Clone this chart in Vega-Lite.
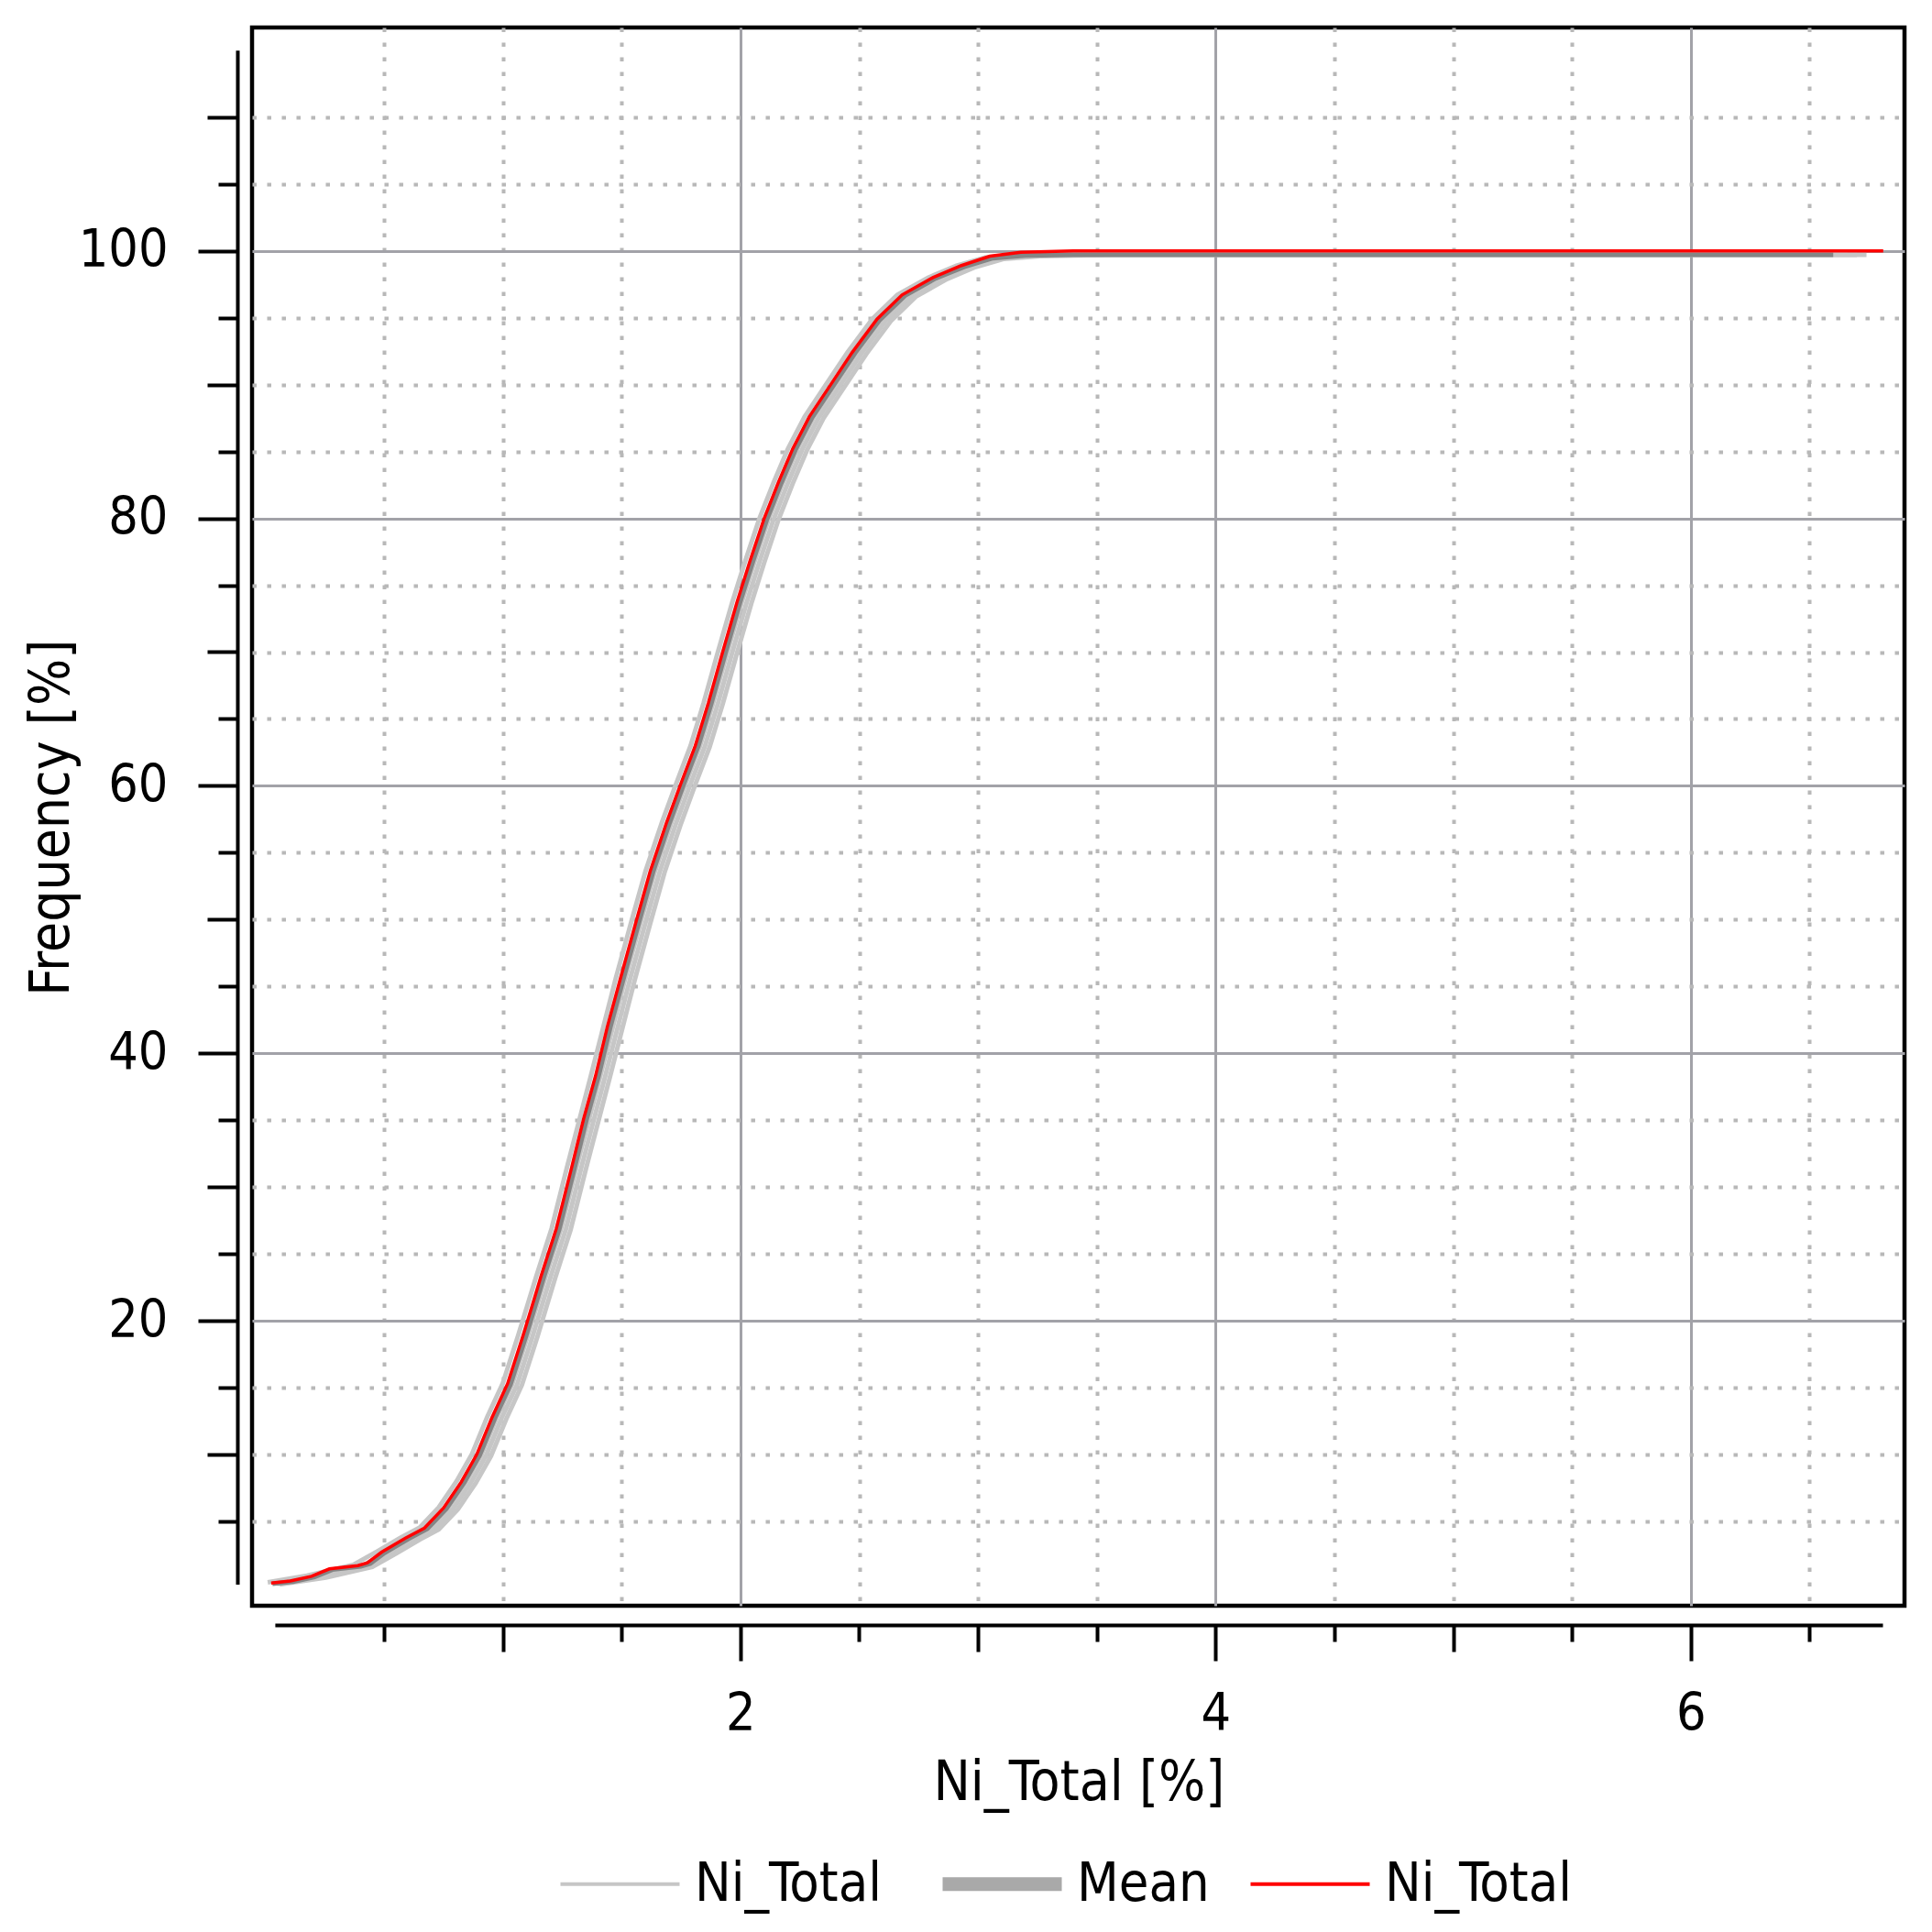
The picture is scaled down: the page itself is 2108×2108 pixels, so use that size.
{
  "$schema": "https://vega.github.io/schema/vega-lite/v6.json",
  "width": 1803,
  "height": 1722,
  "autosize": {"type": "none"},
  "padding": {"left": 275, "top": 30, "right": 30, "bottom": 356},
  "background": "white",
  "config": {
    "font": "DejaVu Sans Condensed",
    "view": {"stroke": "black", "strokeWidth": 4.5},
    "axis": {
      "labelFont": "DejaVu Sans Condensed",
      "titleFont": "DejaVu Sans Condensed",
      "labelColor": "black",
      "titleColor": "black",
      "titleFontWeight": "normal",
      "domainColor": "black",
      "domainWidth": 4,
      "tickColor": "black",
      "tickWidth": 4
    },
    "legend": {"labelFont": "DejaVu Sans Condensed", "labelColor": "black"}
  },
  "datasets": {
    "obs": [
      {"x": 0.025, "y": 0.4}, {"x": 0.105, "y": 0.55}, {"x": 0.195, "y": 0.9}, {"x": 0.27, "y": 1.45},
      {"x": 0.39, "y": 1.7}, {"x": 0.43, "y": 1.9}, {"x": 0.49, "y": 2.7}, {"x": 0.59, "y": 3.75},
      {"x": 0.67, "y": 4.5}, {"x": 0.75, "y": 6.0}, {"x": 0.825, "y": 7.95}, {"x": 0.89, "y": 10.0},
      {"x": 0.955, "y": 12.8}, {"x": 1.02, "y": 15.3}, {"x": 1.085, "y": 18.9}, {"x": 1.135, "y": 21.8},
      {"x": 1.16, "y": 23.3}, {"x": 1.225, "y": 26.9}, {"x": 1.29, "y": 31.5}, {"x": 1.34, "y": 35.1},
      {"x": 1.39, "y": 38.3}, {"x": 1.44, "y": 42.0}, {"x": 1.495, "y": 45.6}, {"x": 1.56, "y": 49.8},
      {"x": 1.62, "y": 53.6}, {"x": 1.69, "y": 57.3}, {"x": 1.75, "y": 60.2}, {"x": 1.81, "y": 63.0},
      {"x": 1.865, "y": 66.2}, {"x": 1.925, "y": 70.0}, {"x": 1.985, "y": 73.7}, {"x": 2.04, "y": 76.8},
      {"x": 2.1, "y": 80.0}, {"x": 2.16, "y": 82.7}, {"x": 2.22, "y": 85.2}, {"x": 2.29, "y": 87.6},
      {"x": 2.38, "y": 90.0}, {"x": 2.47, "y": 92.4}, {"x": 2.575, "y": 94.9}, {"x": 2.68, "y": 96.7},
      {"x": 2.81, "y": 98.0}, {"x": 2.93, "y": 98.9}, {"x": 3.05, "y": 99.6}, {"x": 3.18, "y": 99.9},
      {"x": 3.4, "y": 100}, {"x": 4.0, "y": 100}, {"x": 5.0, "y": 100}, {"x": 6.0, "y": 100}, {"x": 6.81, "y": 100}
    ],
    "mean": [
      {"x": 0.03, "y": 0.35}, {"x": 0.117, "y": 0.5}, {"x": 0.207, "y": 0.85}, {"x": 0.282, "y": 1.4},
      {"x": 0.402, "y": 1.65}, {"x": 0.442, "y": 1.85}, {"x": 0.502, "y": 2.65}, {"x": 0.602, "y": 3.7},
      {"x": 0.682, "y": 4.45}, {"x": 0.762, "y": 5.95}, {"x": 0.837, "y": 7.9}, {"x": 0.902, "y": 9.95},
      {"x": 0.967, "y": 12.75}, {"x": 1.032, "y": 15.25}, {"x": 1.097, "y": 18.85}, {"x": 1.147, "y": 21.75},
      {"x": 1.172, "y": 23.25}, {"x": 1.237, "y": 26.85}, {"x": 1.302, "y": 31.45}, {"x": 1.352, "y": 35.05},
      {"x": 1.402, "y": 38.25}, {"x": 1.452, "y": 41.95}, {"x": 1.507, "y": 45.55}, {"x": 1.572, "y": 49.75},
      {"x": 1.632, "y": 53.55}, {"x": 1.702, "y": 57.25}, {"x": 1.762, "y": 60.15}, {"x": 1.822, "y": 62.95},
      {"x": 1.877, "y": 66.15}, {"x": 1.937, "y": 69.95}, {"x": 1.997, "y": 73.65}, {"x": 2.052, "y": 76.75},
      {"x": 2.112, "y": 79.95}, {"x": 2.172, "y": 82.65}, {"x": 2.232, "y": 85.15}, {"x": 2.302, "y": 87.55},
      {"x": 2.392, "y": 89.95}, {"x": 2.482, "y": 92.35}, {"x": 2.587, "y": 94.85}, {"x": 2.692, "y": 96.65},
      {"x": 2.822, "y": 97.95}, {"x": 2.942, "y": 98.8}, {"x": 3.062, "y": 99.45}, {"x": 3.2, "y": 99.65},
      {"x": 3.4, "y": 99.7}, {"x": 4.0, "y": 99.7}, {"x": 5.0, "y": 99.7}, {"x": 6.0, "y": 99.7}, {"x": 6.6, "y": 99.7}
    ],
    "sims": [
      {"s": "a", "x": 0.01, "y": 0.45}, {"s": "a", "x": 0.175, "y": 0.95}, {"s": "a", "x": 0.37, "y": 1.75}, {"s": "a", "x": 0.47, "y": 2.75},
      {"s": "a", "x": 0.57, "y": 3.8}, {"s": "a", "x": 0.65, "y": 4.55}, {"s": "a", "x": 0.73, "y": 6.05}, {"s": "a", "x": 0.805, "y": 8.0},
      {"s": "a", "x": 0.87, "y": 10.05}, {"s": "a", "x": 0.935, "y": 12.85}, {"s": "a", "x": 1.0, "y": 15.35}, {"s": "a", "x": 1.065, "y": 18.95},
      {"s": "a", "x": 1.14, "y": 23.3}, {"s": "a", "x": 1.205, "y": 26.9}, {"s": "a", "x": 1.27, "y": 31.5}, {"s": "a", "x": 1.37, "y": 38.3},
      {"s": "a", "x": 1.475, "y": 45.6}, {"s": "a", "x": 1.54, "y": 49.8}, {"s": "a", "x": 1.6, "y": 53.6}, {"s": "a", "x": 1.67, "y": 57.3},
      {"s": "a", "x": 1.73, "y": 60.2}, {"s": "a", "x": 1.79, "y": 63.0}, {"s": "a", "x": 1.845, "y": 66.2}, {"s": "a", "x": 1.905, "y": 70.0},
      {"s": "a", "x": 1.965, "y": 73.7}, {"s": "a", "x": 2.02, "y": 76.8}, {"s": "a", "x": 2.08, "y": 80.0}, {"s": "a", "x": 2.14, "y": 82.7},
      {"s": "a", "x": 2.2, "y": 85.2}, {"s": "a", "x": 2.27, "y": 87.6}, {"s": "a", "x": 2.36, "y": 90.0}, {"s": "a", "x": 2.45, "y": 92.4},
      {"s": "a", "x": 2.555, "y": 94.9}, {"s": "a", "x": 2.66, "y": 96.7}, {"s": "a", "x": 2.79, "y": 98.0}, {"s": "a", "x": 2.91, "y": 98.9},
      {"s": "a", "x": 3.03, "y": 99.5}, {"s": "a", "x": 3.18, "y": 99.7}, {"s": "a", "x": 3.48, "y": 99.75}, {"s": "a", "x": 6.62, "y": 99.75},
      {"s": "b", "x": 0.04, "y": 0.4}, {"s": "b", "x": 0.215, "y": 0.9}, {"s": "b", "x": 0.41, "y": 1.7}, {"s": "b", "x": 0.51, "y": 2.7},
      {"s": "b", "x": 0.61, "y": 3.75}, {"s": "b", "x": 0.69, "y": 4.5}, {"s": "b", "x": 0.77, "y": 6.0}, {"s": "b", "x": 0.845, "y": 7.95},
      {"s": "b", "x": 0.91, "y": 10.0}, {"s": "b", "x": 0.975, "y": 12.8}, {"s": "b", "x": 1.04, "y": 15.3}, {"s": "b", "x": 1.105, "y": 18.9},
      {"s": "b", "x": 1.18, "y": 23.3}, {"s": "b", "x": 1.245, "y": 26.9}, {"s": "b", "x": 1.31, "y": 31.5}, {"s": "b", "x": 1.41, "y": 38.3},
      {"s": "b", "x": 1.515, "y": 45.6}, {"s": "b", "x": 1.58, "y": 49.8}, {"s": "b", "x": 1.64, "y": 53.6}, {"s": "b", "x": 1.71, "y": 57.3},
      {"s": "b", "x": 1.77, "y": 60.2}, {"s": "b", "x": 1.83, "y": 63.0}, {"s": "b", "x": 1.885, "y": 66.2}, {"s": "b", "x": 1.945, "y": 70.0},
      {"s": "b", "x": 2.005, "y": 73.7}, {"s": "b", "x": 2.06, "y": 76.8}, {"s": "b", "x": 2.12, "y": 80.0}, {"s": "b", "x": 2.18, "y": 82.7},
      {"s": "b", "x": 2.24, "y": 85.2}, {"s": "b", "x": 2.31, "y": 87.6}, {"s": "b", "x": 2.4, "y": 90.0}, {"s": "b", "x": 2.49, "y": 92.4},
      {"s": "b", "x": 2.595, "y": 94.9}, {"s": "b", "x": 2.7, "y": 96.7}, {"s": "b", "x": 2.83, "y": 98.0}, {"s": "b", "x": 2.95, "y": 98.9},
      {"s": "b", "x": 3.07, "y": 99.5}, {"s": "b", "x": 3.22, "y": 99.7}, {"s": "b", "x": 3.52, "y": 99.75}, {"s": "b", "x": 6.66, "y": 99.75},
      {"s": "c", "x": 0.05, "y": 0.35}, {"s": "c", "x": 0.235, "y": 0.85}, {"s": "c", "x": 0.43, "y": 1.65}, {"s": "c", "x": 0.53, "y": 2.65},
      {"s": "c", "x": 0.63, "y": 3.7}, {"s": "c", "x": 0.71, "y": 4.45}, {"s": "c", "x": 0.79, "y": 5.95}, {"s": "c", "x": 0.865, "y": 7.9},
      {"s": "c", "x": 0.93, "y": 9.95}, {"s": "c", "x": 0.995, "y": 12.75}, {"s": "c", "x": 1.06, "y": 15.25}, {"s": "c", "x": 1.125, "y": 18.85},
      {"s": "c", "x": 1.2, "y": 23.25}, {"s": "c", "x": 1.265, "y": 26.85}, {"s": "c", "x": 1.33, "y": 31.45}, {"s": "c", "x": 1.43, "y": 38.25},
      {"s": "c", "x": 1.535, "y": 45.55}, {"s": "c", "x": 1.6, "y": 49.75}, {"s": "c", "x": 1.66, "y": 53.55}, {"s": "c", "x": 1.73, "y": 57.25},
      {"s": "c", "x": 1.79, "y": 60.15}, {"s": "c", "x": 1.85, "y": 62.95}, {"s": "c", "x": 1.905, "y": 66.15}, {"s": "c", "x": 1.965, "y": 69.95},
      {"s": "c", "x": 2.025, "y": 73.65}, {"s": "c", "x": 2.08, "y": 76.75}, {"s": "c", "x": 2.14, "y": 79.95}, {"s": "c", "x": 2.2, "y": 82.65},
      {"s": "c", "x": 2.26, "y": 85.15}, {"s": "c", "x": 2.33, "y": 87.55}, {"s": "c", "x": 2.42, "y": 89.95}, {"s": "c", "x": 2.51, "y": 92.35},
      {"s": "c", "x": 2.615, "y": 94.85}, {"s": "c", "x": 2.72, "y": 96.65}, {"s": "c", "x": 2.85, "y": 97.95}, {"s": "c", "x": 2.97, "y": 98.85},
      {"s": "c", "x": 3.09, "y": 99.45}, {"s": "c", "x": 3.24, "y": 99.65}, {"s": "c", "x": 3.54, "y": 99.7}, {"s": "c", "x": 6.7, "y": 99.7},
      {"s": "d", "x": 0.06, "y": 0.3}, {"s": "d", "x": 0.255, "y": 0.8}, {"s": "d", "x": 0.45, "y": 1.6}, {"s": "d", "x": 0.55, "y": 2.6},
      {"s": "d", "x": 0.65, "y": 3.65}, {"s": "d", "x": 0.73, "y": 4.4}, {"s": "d", "x": 0.81, "y": 5.9}, {"s": "d", "x": 0.885, "y": 7.85},
      {"s": "d", "x": 0.95, "y": 9.9}, {"s": "d", "x": 1.015, "y": 12.7}, {"s": "d", "x": 1.08, "y": 15.2}, {"s": "d", "x": 1.145, "y": 18.8},
      {"s": "d", "x": 1.22, "y": 23.2}, {"s": "d", "x": 1.285, "y": 26.8}, {"s": "d", "x": 1.35, "y": 31.4}, {"s": "d", "x": 1.45, "y": 38.2},
      {"s": "d", "x": 1.555, "y": 45.5}, {"s": "d", "x": 1.62, "y": 49.7}, {"s": "d", "x": 1.68, "y": 53.5}, {"s": "d", "x": 1.75, "y": 57.2},
      {"s": "d", "x": 1.81, "y": 60.1}, {"s": "d", "x": 1.87, "y": 62.9}, {"s": "d", "x": 1.925, "y": 66.1}, {"s": "d", "x": 1.985, "y": 69.9},
      {"s": "d", "x": 2.045, "y": 73.6}, {"s": "d", "x": 2.1, "y": 76.7}, {"s": "d", "x": 2.16, "y": 79.9}, {"s": "d", "x": 2.22, "y": 82.6},
      {"s": "d", "x": 2.28, "y": 85.1}, {"s": "d", "x": 2.35, "y": 87.5}, {"s": "d", "x": 2.44, "y": 89.9}, {"s": "d", "x": 2.53, "y": 92.3},
      {"s": "d", "x": 2.635, "y": 94.8}, {"s": "d", "x": 2.74, "y": 96.6}, {"s": "d", "x": 2.87, "y": 97.9}, {"s": "d", "x": 2.99, "y": 98.8},
      {"s": "d", "x": 3.11, "y": 99.4}, {"s": "d", "x": 3.26, "y": 99.6}, {"s": "d", "x": 3.56, "y": 99.7}, {"s": "d", "x": 6.74, "y": 99.7}
    ]
  },
  "layer": [
    {
      "encoding": {
        "x": {
          "field": "x",
          "type": "quantitative",
          "scale": {"domain": [-0.056, 6.9], "nice": false, "zero": false},
          "axis": {
            "orient": "bottom",
            "title": null,
            "domain": false,
            "ticks": false,
            "labels": false,
            "values": [0.5, 1, 1.5, 2, 2.5, 3, 3.5, 4, 4.5, 5, 5.5, 6, 6.5],
            "grid": true,
            "gridDash": {"condition": {"test": "datum.value % 2 === 0", "value": []}, "value": [4.5, 11.5]},
            "gridColor": {"condition": {"test": "datum.value % 2 === 0", "value": "#a2a2a8"}, "value": "#b8b8b8"},
            "gridWidth": {"condition": {"test": "datum.value % 2 === 0", "value": 3}, "value": 4}
          }
        },
        "y": {
          "field": "y",
          "type": "quantitative",
          "scale": {"domain": [-1.3, 116.7], "nice": false, "zero": false},
          "axis": {
            "orient": "left",
            "title": null,
            "domain": false,
            "ticks": false,
            "labels": false,
            "values": [5, 10, 15, 20, 25, 30, 35, 40, 45, 50, 55, 60, 65, 70, 75, 80, 85, 90, 95, 100, 105, 110],
            "grid": true,
            "gridDash": {"condition": {"test": "datum.value % 20 === 0", "value": []}, "value": [4.5, 11.5]},
            "gridColor": {"condition": {"test": "datum.value % 20 === 0", "value": "#a2a2a8"}, "value": "#b8b8b8"},
            "gridWidth": {"condition": {"test": "datum.value % 20 === 0", "value": 3}, "value": 4}
          }
        }
      },
      "layer": [
        {
          "data": {"name": "sims"},
          "mark": {"type": "line", "strokeWidth": 5},
          "encoding": {"detail": {"field": "s"}, "color": {"datum": "Simulations"}}
        },
        {
          "data": {"name": "mean"},
          "mark": {"type": "line", "strokeWidth": 5},
          "encoding": {"color": {"datum": "Mean"}}
        }
      ]
    },
    {
      "data": {"name": "obs"},
      "mark": {"type": "line", "strokeWidth": 3.5},
      "encoding": {
        "x": {
          "field": "x",
          "type": "quantitative",
          "scale": {"domain": [0.0405, 6.807], "range": [24.9, 1779.0], "nice": false, "zero": false},
          "axis": {
            "orient": "bottom",
            "title": "Ni_Total [%]",
            "titleFontSize": 60,
            "titlePadding": 18,
            "values": [0.5, 1, 1.5, 2, 2.5, 3, 3.5, 4, 4.5, 5, 5.5, 6, 6.5],
            "labelExpr": "datum.value % 2 === 0 ? format(datum.value, 'd') : ''",
            "labelFontSize": 57,
            "labelPadding": 30,
            "labelFlush": false,
            "labelOverlap": false,
            "offset": 21,
            "grid": false,
            "tickSize": {"condition": [{"test": "datum.value % 2 === 0", "value": 39}, {"test": "datum.value % 1 === 0", "value": 29}], "value": 18}
          }
        },
        "y": {
          "field": "y",
          "type": "quantitative",
          "scale": {"domain": [0.3, 115], "range": [1698.6, 24.8], "nice": false, "zero": false},
          "axis": {
            "orient": "left",
            "title": "Frequency [%]",
            "titleFontSize": 60,
            "titlePadding": -2,
            "values": [5, 10, 15, 20, 25, 30, 35, 40, 45, 50, 55, 60, 65, 70, 75, 80, 85, 90, 95, 100, 105, 110],
            "labelExpr": "datum.value % 20 === 0 ? datum.label : ''",
            "labelFontSize": 57,
            "labelPadding": 33,
            "labelFlush": false,
            "labelOverlap": false,
            "offset": 16,
            "grid": false,
            "tickSize": {"condition": [{"test": "datum.value % 20 === 0", "value": 43}, {"test": "datum.value % 10 === 0", "value": 33}], "value": 21}
          }
        },
        "color": {
          "datum": "Ni_Total",
          "type": "nominal",
          "scale": {"domain": ["Simulations", "Mean", "Ni_Total"], "range": ["#c6c6c6", "#858585", "#ff0000"]},
          "legend": {
            "orient": "none",
            "legendX": 372,
            "legendY": 1996,
            "direction": "horizontal",
            "title": null,
            "labelExpr": "datum.label === 'Simulations' ? 'Ni_Total' : datum.label",
            "labelFontSize": 59,
            "labelLimit": 600,
            "labelOffset": 52,
            "columnPadding": 36,
            "symbolType": "stroke",
            "symbolSize": 16900,
            "symbolStrokeWidth": 4,
            "encode": {
              "symbols": {
                "update": {
                  "strokeWidth": {"signal": "datum.value === 'Mean' ? 15 : 4"},
                  "strokeOpacity": {"signal": "datum.value === 'Mean' ? 0.7 : 1"}
                }
              }
            }
          }
        }
      }
    }
  ],
  "resolve": {
    "scale": {"x": "independent", "y": "independent"},
    "axis": {"x": "independent", "y": "independent"}
  }
}
